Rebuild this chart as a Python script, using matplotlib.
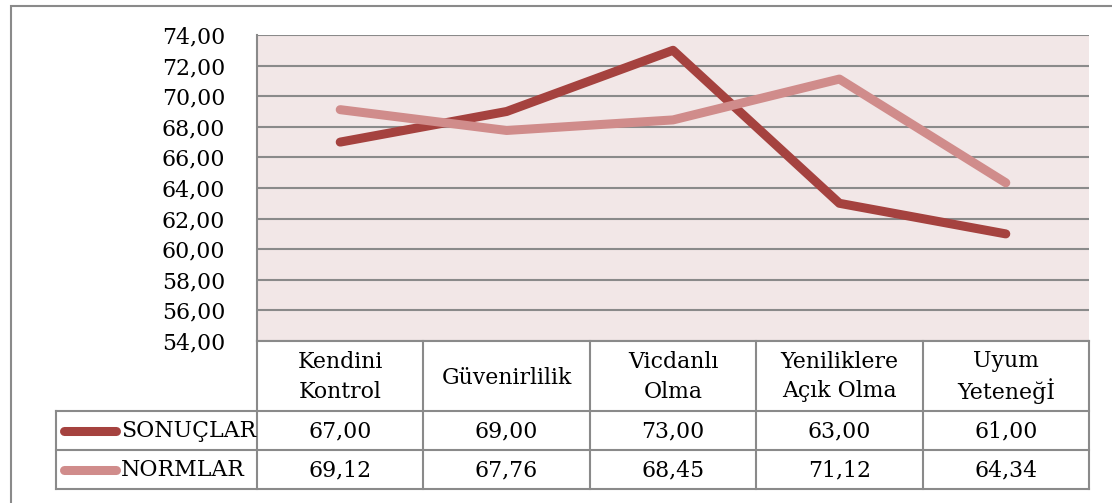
import numpy as np
import matplotlib.pyplot as plt
from matplotlib.lines import Line2D
from matplotlib.patches import Rectangle

# data
categories = ['Kendini\nKontrol', 'Güvenirlilik', 'Vicdanlı\nOlma', 'Yeniliklere\nAçık Olma', 'Uyum\nYeteneğİ']
sonuclar = [67.00, 69.00, 73.00, 63.00, 61.00]
normlar = [69.12, 67.76, 68.45, 71.12, 64.34]
series_names = ['SONUÇLAR', 'NORMLAR']
yticks = np.arange(54, 75, 2)

W, H = 1112, 503
c_son = '#A5423F'
c_norm = '#D08C8B'
grid_c = '#8A8A8A'
fs = 15.8
lw_series = 6.5

plt.rcParams['font.family'] = ['DejaVu Serif']
fig = plt.figure(figsize=(W / 100, H / 100), dpi=100)

def fx(x):
    return x / W

def fy(y):
    return 1 - y / H

# outer frame
fig.patches.append(Rectangle((fx(11), fy(510)), fx(1120) - fx(11), fy(6) - fy(510),
                             transform=fig.transFigure, fill=False, ec=grid_c, lw=1.5))

# plot area
L, R, T, B = 257, 1089, 35, 341
ax = fig.add_axes([fx(L), fy(B), fx(R) - fx(L), fy(T) - fy(B)])
ax.set_facecolor('#F2E7E7')
x = np.arange(len(categories))
ax.plot(x, sonuclar, color=c_son, lw=lw_series, solid_capstyle='round', solid_joinstyle='round', zorder=3)
ax.plot(x, normlar, color=c_norm, lw=lw_series, solid_capstyle='round', solid_joinstyle='round', zorder=3)
ax.set_xlim(-0.5, len(categories) - 0.5)
ax.set_ylim(54, 74)
ax.set_yticks(yticks)
ax.set_yticklabels(['%d,00' % v for v in yticks], fontsize=fs)
ax.set_xticks([])
ax.tick_params(axis='y', length=0, pad=23)
ax.yaxis.grid(True, color=grid_c, lw=1.5)
ax.set_axisbelow(True)
for s in ['top', 'right', 'bottom']:
    ax.spines[s].set_visible(False)
ax.spines['left'].set_color(grid_c)
ax.spines['left'].set_linewidth(1.5)

# data table
cell = (R - L) / len(categories)
rows = [341, 411, 450, 489]

def hline(y, x0, x1):
    fig.add_artist(Line2D([fx(x0), fx(x1)], [fy(y), fy(y)], color=grid_c, lw=1.5))

def vline(xp, y0, y1):
    fig.add_artist(Line2D([fx(xp), fx(xp)], [fy(y0), fy(y1)], color=grid_c, lw=1.5))

hline(rows[0], L, R)
for y in rows[1:]:
    hline(y, 56, R)
for i in range(len(categories) + 1):
    vline(L + i * cell, rows[0], rows[3])
vline(56, rows[1], rows[3])

for i, cat in enumerate(categories):
    cx = L + (i + 0.5) * cell
    parts = cat.split('\n')
    ys = [375] if len(parts) == 1 else [359, 389]
    for part, yy in zip(parts, ys):
        fig.text(fx(cx), fy(yy), part, ha='center', va='center_baseline', fontsize=fs)
    fig.text(fx(cx), fy(431), ('%.2f' % sonuclar[i]).replace('.', ','), ha='center', va='center', fontsize=fs)
    fig.text(fx(cx), fy(470), ('%.2f' % normlar[i]).replace('.', ','), ha='center', va='center', fontsize=fs)

for name, col, y in [(series_names[0], c_son, 431), (series_names[1], c_norm, 470)]:
    fig.add_artist(Line2D([fx(64), fx(116)], [fy(y), fy(y)], color=col, lw=lw_series, solid_capstyle='round'))
    fig.text(fx(121), fy(y), name, ha='left', va='center', fontsize=fs)

plt.savefig('out.png', dpi=100)
